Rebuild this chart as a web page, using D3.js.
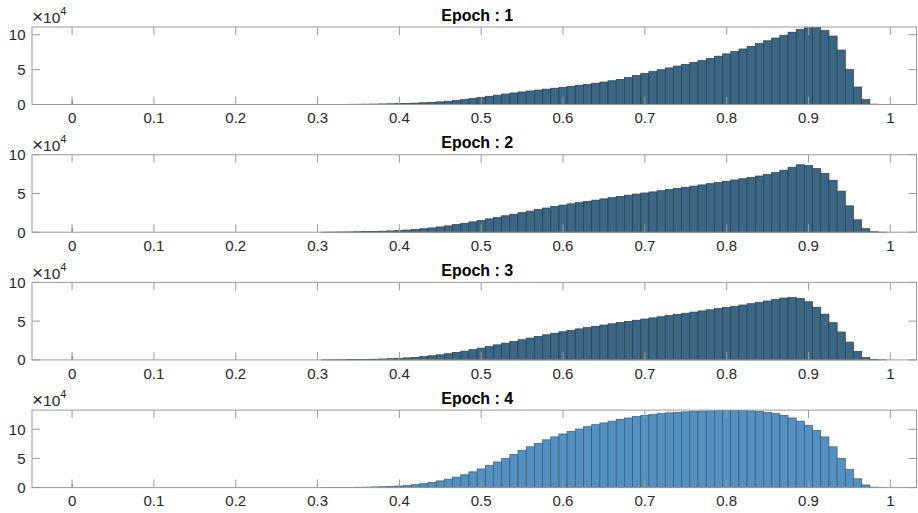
<!DOCTYPE html>
<html>
<head>
<meta charset="utf-8">
<script src="https://cdn.jsdelivr.net/npm/d3@7"></script>
<style>
  body { margin: 0; background: #fff; }
  svg { display: block; font-family: "Liberation Sans", Arial, Helvetica, sans-serif; }
</style>
</head>
<body>
<svg id="chart" width="918" height="513"></svg>
<script>
// histogram counts (x 1e4), one bar per 0.01 from 0.30 to 0.99
var bins = d3.range(30, 100).map(function(i) { return i / 100; });

var epoch1 = [
  0, 0.01, 0.02, 0.02, 0.03, 0.04, 0.05, 0.06, 0.08, 0.10,
  0.13, 0.16, 0.20, 0.25, 0.31, 0.38, 0.47, 0.58, 0.71, 0.86,
  1.02, 1.18, 1.34, 1.50, 1.65, 1.80, 1.94, 2.07, 2.20, 2.33,
  2.46, 2.60, 2.74, 2.89, 3.05, 3.22, 3.40, 3.60, 3.85, 4.15,
  4.45, 4.72, 4.98, 5.24, 5.50, 5.76, 6.03, 6.30, 6.60, 6.92,
  7.25, 7.60, 7.95, 8.32, 8.72, 9.12, 9.52, 9.92, 10.35, 10.75,
  11.0, 11.05, 10.6, 9.8, 7.8, 5.0, 2.5, 0.7, 0.05, 0.01
];
var epoch2 = [
  0, 0.01, 0.02, 0.03, 0.04, 0.06, 0.08, 0.10, 0.13, 0.17,
  0.22, 0.28, 0.35, 0.44, 0.55, 0.68, 0.82, 0.98, 1.15, 1.33,
  1.52, 1.72, 1.92, 2.12, 2.32, 2.52, 2.72, 2.92, 3.12, 3.32,
  3.50, 3.66, 3.82, 3.98, 4.14, 4.30, 4.46, 4.62, 4.78, 4.92,
  5.06, 5.20, 5.35, 5.50, 5.65, 5.80, 5.95, 6.10, 6.26, 6.42,
  6.58, 6.74, 6.90, 7.07, 7.25, 7.45, 7.70, 8.00, 8.38, 8.70,
  8.60, 8.20, 7.60, 6.70, 5.30, 3.40, 1.60, 0.45, 0.06, 0.01
];
var epoch3 = [
  0, 0.01, 0.02, 0.03, 0.04, 0.05, 0.07, 0.09, 0.12, 0.16,
  0.20, 0.26, 0.33, 0.42, 0.53, 0.66, 0.80, 0.96, 1.13, 1.32,
  1.52, 1.73, 1.94, 2.16, 2.38, 2.60, 2.82, 3.03, 3.24, 3.44,
  3.63, 3.82, 4.00, 4.17, 4.34, 4.50, 4.66, 4.82, 4.97, 5.12,
  5.27, 5.42, 5.57, 5.72, 5.87, 6.02, 6.17, 6.32, 6.47, 6.62,
  6.77, 6.92, 7.08, 7.25, 7.42, 7.60, 7.80, 7.98, 8.05, 7.90,
  7.50, 6.80, 5.90, 4.80, 3.60, 2.30, 1.10, 0.30, 0.05, 0.01
];
var epoch4 = [
  0, 0.01, 0.02, 0.03, 0.04, 0.06, 0.08, 0.11, 0.15, 0.20,
  0.27, 0.37, 0.50, 0.68, 0.90, 1.15, 1.45, 1.80, 2.20, 2.70,
  3.20, 3.80, 4.40, 5.00, 5.70, 6.40, 7.00, 7.60, 8.20, 8.70,
  9.20, 9.65, 10.05, 10.45, 10.80, 11.10, 11.40, 11.70, 11.95, 12.20,
  12.40, 12.55, 12.70, 12.82, 12.92, 13.00, 13.07, 13.12, 13.16, 13.20,
  13.22, 13.22, 13.20, 13.15, 13.05, 12.90, 12.70, 12.40, 11.95, 11.40,
  10.70, 9.80, 8.70, 7.00, 5.00, 3.10, 1.50, 0.45, 0.08, 0.02
];
// small spike in the bin at x = 0
var zeroCounts = [0.55, 0.5, 0.5, 0.65];

var titles = ["Epoch : 1", "Epoch : 2", "Epoch : 3", "Epoch : 4"];
var yMax = [11.1, 10.0, 10.0, 13.3];
var xTicks = [0, 0.1, 0.2, 0.3, 0.4, 0.5, 0.6, 0.7, 0.8, 0.9, 1];
var yTicks = [0, 5, 10];

var series = [epoch1, epoch2, epoch3, epoch4];
var fills = ["#3b6785", "#3b6785", "#3b6785", "#5591c0"];
var edges = ["#243c4f", "#243c4f", "#243c4f", "#34597a"];

var svg = d3.select("#chart"),
    left = 32, right = 916.5,
    top0 = 27, pitch = 127.7, ph = 77.5,
    tickLen = 8, binW = 0.01;

var x = d3.scaleLinear().domain([-0.049, 1.032]).range([left, right]);

series.forEach(function(vals, p) {
  var top = top0 + p * pitch;
  var y = d3.scaleLinear().domain([0, yMax[p]]).range([top + ph, top]);
  var g = svg.append("g");

  // bars
  g.selectAll("rect.bar")
    .data(bins.map(function(b, i) { return {x: b, v: vals[i]}; }))
    .enter().append("rect")
      .attr("class", "bar")
      .attr("x", function(d) { return x(d.x - binW / 2); })
      .attr("width", x(binW) - x(0))
      .attr("y", function(d) { return y(d.v); })
      .attr("height", function(d) { return y(0) - y(d.v); })
      .attr("fill", fills[p])
      .attr("stroke", edges[p])
      .attr("stroke-width", 0.7);

  g.append("rect")
    .attr("x", x(0) - 0.5).attr("width", 1.2)
    .attr("y", y(zeroCounts[p]))
    .attr("height", y(0) - y(zeroCounts[p]))
    .attr("fill", fills[p]);

  // box
  g.append("rect")
    .attr("x", left).attr("y", top)
    .attr("width", right - left).attr("height", ph)
    .attr("fill", "none").attr("stroke", "#9a9a9a").attr("stroke-width", 1);

  // x ticks (bottom and top, inward)
  xTicks.forEach(function(t) {
    g.append("line").attr("x1", x(t)).attr("x2", x(t))
      .attr("y1", top + ph).attr("y2", top + ph - tickLen)
      .attr("stroke", "#9a9a9a");
    g.append("line").attr("x1", x(t)).attr("x2", x(t))
      .attr("y1", top).attr("y2", top + tickLen)
      .attr("stroke", "#9a9a9a");
    g.append("text").attr("x", x(t)).attr("y", top + ph + 18.7)
      .attr("text-anchor", "middle").attr("font-size", 15).attr("fill", "#262626")
      .text(d3.format("~g")(t));
  });

  // y ticks (left and right, inward)
  yTicks.forEach(function(t) {
    g.append("line").attr("x1", left).attr("x2", left + tickLen)
      .attr("y1", y(t)).attr("y2", y(t)).attr("stroke", "#9a9a9a");
    g.append("line").attr("x1", right).attr("x2", right - tickLen)
      .attr("y1", y(t)).attr("y2", y(t)).attr("stroke", "#9a9a9a");
    g.append("text").attr("x", 25.5).attr("y", y(t) + 5.4)
      .attr("text-anchor", "end").attr("font-size", 15).attr("fill", "#262626")
      .text(t);
  });

  // exponent label
  var ex = g.append("text").attr("x", left).attr("y", top - 3.7)
    .attr("font-size", 15.5).attr("fill", "#262626");
  ex.append("tspan").attr("font-size", 19).attr("font-weight", 300).text("\u00d7");
  ex.append("tspan").text("10");
  ex.append("tspan").attr("font-size", 11).attr("dy", -8).text("4");

  // title
  g.append("text").attr("x", (left + right) / 2 + 3).attr("y", top - 6.3)
    .attr("text-anchor", "middle").attr("font-size", 16).attr("font-weight", "bold")
    .attr("fill", "#000").text(titles[p]);
});
</script>
</body>
</html>
